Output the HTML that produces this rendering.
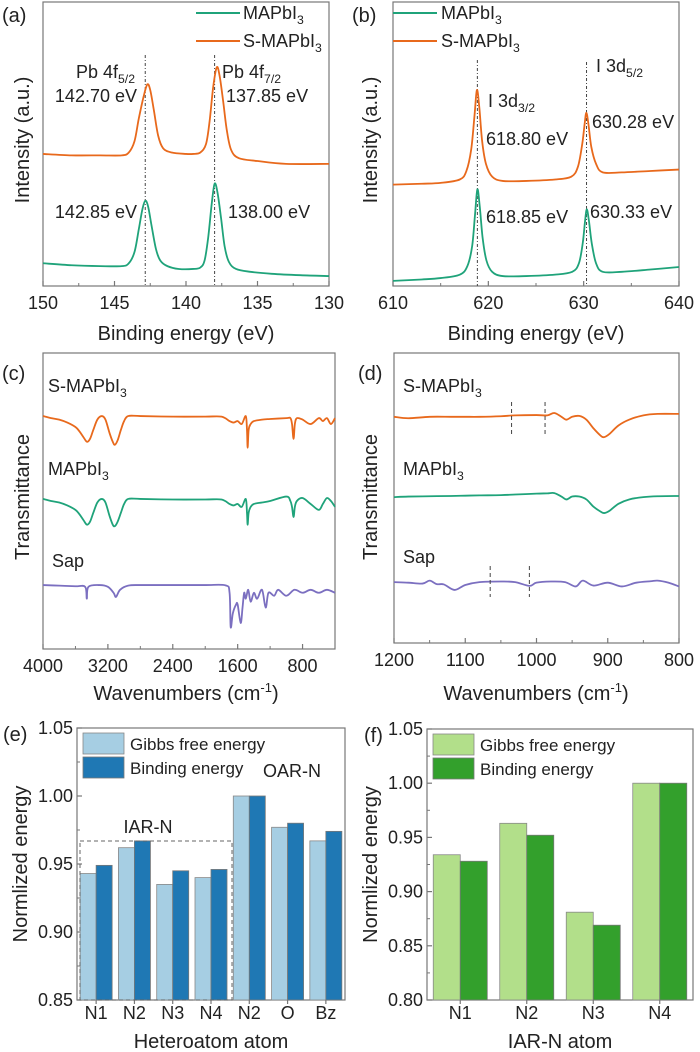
<!DOCTYPE html>
<html><head><meta charset="utf-8">
<style>
html,body{margin:0;padding:0;background:#fff;}
svg{display:block;font-family:"Liberation Sans",Arial,sans-serif;}
</style></head>
<body>
<svg id="fig" width="700" height="1052" viewBox="0 0 700 1052" xmlns="http://www.w3.org/2000/svg">
<g id="root"></g>
</svg>
<script>
// ---------- Panel (a) data: Pb 4f XPS ----------
const aEnergyGreen = [150,148,146,144.5,144,143.6,143.3,143.05,142.85,142.65,142.4,142.1,141.8,141.3,140.5,139.5,139,138.7,138.45,138.2,138,137.8,137.55,137.3,137,136.5,135.5,134,132,130];
const aMAPbI3 = [8,7.3,7,7,8,12,20,27,30,28,21,13,9,7,6,6,6.5,9,17,29,36,33,24,14,8.5,6,5,4.3,3.8,3.5];
const aEnergyOrange = [150,148,146,144.5,144,143.6,143.3,142.95,142.7,142.5,142.25,141.95,141.6,141,140,139.5,139,138.6,138.35,138.1,137.85,137.65,137.4,137.15,136.85,136.3,135,133,130];
const aSMAPbI3 = [46.5,46,46,46,47,51,59,67,71,69,62,53,48.5,47,46.5,46.5,47,50,58,70,77,74,65,55,48,45,44,43,43];
const aTicks = [150,145,140,135,130];
// ---------- Panel (b) data: I 3d XPS ----------
const bEnergyGreen = [610,613,615,617,617.8,618.3,618.6,618.85,619.1,619.4,619.8,620.4,621.5,624,627,628.8,629.5,629.9,630.15,630.33,630.55,630.85,631.3,632,634,637,640];
const bMAPbI3 = [1.8,2.3,2.8,4,7,14,25,34,28,17,9,5,3.5,3.5,4,5,8,15,23,27,23,15,8,5,5,5.8,6.7];
const bEnergyOrange = [610,613,615,617,617.7,618.2,618.55,618.8,619.05,619.35,619.75,620.4,621.5,624,627,628.7,629.4,629.85,630.1,630.28,630.5,630.8,631.3,632,634,637,640];
const bSMAPbI3 = [35.7,36,36.3,37.5,40.5,48,60,69,63,51,43,38.5,37,37,37.5,38.5,42,50,57,61,57,49,43,40,40,40.5,41];
const bTicks = [610,620,630,640];
// ---------- Panel (c) data: FTIR full ----------
const cWaveS = [4000,3900,3800,3700,3600,3550,3500,3458,3420,3380,3330,3275,3230,3180,3140,3114,3080,3040,3000,2950,2800,2400,2000,1800,1700,1650,1600,1550,1500,1485,1477,1465,1440,1400,1300,1200,1000,950,930,911,895,870,800,700,600,550,500,450,400];
const cSMAPbI3 = [78.7,78,77.5,76.5,75,73.5,71.5,70,71,74,77.5,78.7,77.5,73,70,69,70.5,74,77,78.7,78.7,78.5,78.5,78.5,77,76.5,77,76,78.7,74,68,74,76,77,77.5,77.7,78,78,76,71,76,78,77.5,76,78,77,78,76,78];
const cWaveM = cWaveS;
const cMAPbI3 = [50.7,50,49.5,48.5,47,45.5,43.5,42,43,46,49.5,50.7,49.5,45,42,41.5,43,46,49,50.7,50.7,50.5,50.5,50.5,49,48.5,49,48,50.7,46,42,46,48,49,49.5,50,51.5,50,48,44.6,48,50,51,49,47,49,51,50,48];
const cWaveSap = [4000,3800,3600,3480,3460,3440,3300,3200,3130,3100,3050,2950,2800,2400,2000,1750,1700,1686,1660,1620,1600,1563,1540,1520,1500,1470,1440,1400,1360,1300,1255,1220,1150,1100,1000,900,800,700,600,500,400];
const cSap = [21.6,21.4,21.2,21,17,21,21.6,21,19,17.6,20,21.4,21.6,21.6,21.6,21.5,19,7.4,12,15,15,8.8,14,19,17,20,16,19,17,20,14,19,18,20,18,20,19,20,19,20,19];
const cTicks = [4000,3200,2400,1600,800];
// ---------- Panel (d) data: FTIR zoom ----------
const dWave = [1200,1180,1150,1120,1100,1080,1050,1030,1000,985,975,965,958,950,940,930,920,910,905,898,885,870,850,830,800];
const dSMAPbI3 = [78,77.5,78,78,78,78,78.2,78.5,78.6,78.5,79.3,78,77,78,78.3,77,74,71.5,71,72,75,77,78.5,79,79];
const dMAPbI3 = [50.3,50.5,50.6,50.7,50.8,50.9,51,51.2,51.5,51.6,51.7,50.5,49.5,50.5,50.5,49.5,47,45.3,44.8,45.5,48,49.5,50.3,50.6,50.7];
const dWaveSap = [1200,1180,1160,1150,1140,1130,1115,1100,1080,1050,1030,1010,1000,980,960,945,935,920,900,880,860,840,830,815,800];
const dSap = [21,20.8,20.5,21.5,20.3,20.2,18.3,20,21,21.2,21,19.7,20.8,21.2,21,19.5,21.5,19.8,20.8,19.5,20.8,21.3,21.5,20.8,19.5];
const dTicks = [1200,1100,1000,900,800];
// ---------- Panel (e) data ----------
const eCategories = ["N1","N2","N3","N4","N2","O","Bz"];
const eGibbs = [0.943,0.962,0.935,0.940,1.000,0.977,0.967];
const eBinding = [0.949,0.967,0.945,0.946,1.000,0.980,0.974];
const eTicks = [0.85,0.90,0.95,1.00,1.05];
// ---------- Panel (f) data ----------
const fCategories = ["N1","N2","N3","N4"];
const fGibbs = [0.934,0.963,0.881,1.000];
const fBinding = [0.928,0.952,0.869,1.000];
const fTicks = [0.80,0.85,0.90,0.95,1.00,1.05];

const NS = "http://www.w3.org/2000/svg";
const root = document.getElementById("root");
const TICK=18, ANN=18, LEG=18, TITLE=20, PLAB=20;
function mk(tag, attrs, parent){
  const el = document.createElementNS(NS, tag);
  for (const k in attrs) el.setAttribute(k, attrs[k]);
  (parent||root).appendChild(el);
  return el;
}
function txt(str, x, y, size, anchor, parent){
  const t = mk("text", {x:x, y:y, "font-size":size, "text-anchor":anchor||"start", fill:"#222"}, parent);
  t.textContent = str;
  return t;
}
function txtSub(main, sub, x, y, size, anchor, parent){
  const t = mk("text", {x:x, y:y, "font-size":size, "text-anchor":anchor||"start", fill:"#222"}, parent);
  const a = document.createElementNS(NS,"tspan"); a.textContent = main; t.appendChild(a);
  const b = document.createElementNS(NS,"tspan"); b.setAttribute("font-size", size*0.68); b.setAttribute("dy", size*0.28); b.textContent = sub; t.appendChild(b);
  return t;
}
function scale(d0,d1,r0,r1){ return v => r0 + (v-d0)/(d1-d0)*(r1-r0); }
function smoothPath(pts){
  let d = "M"+pts[0][0].toFixed(2)+","+pts[0][1].toFixed(2);
  for (let i=0;i<pts.length-1;i++){
    const p0=pts[Math.max(i-1,0)], p1=pts[i], p2=pts[i+1], p3=pts[Math.min(i+2,pts.length-1)];
    const c1=[p1[0]+(p2[0]-p0[0])/6, p1[1]+(p2[1]-p0[1])/6];
    const c2=[p2[0]-(p3[0]-p1[0])/6, p2[1]-(p3[1]-p1[1])/6];
    d += " C"+c1[0].toFixed(2)+","+c1[1].toFixed(2)+" "+c2[0].toFixed(2)+","+c2[1].toFixed(2)+" "+p2[0].toFixed(2)+","+p2[1].toFixed(2);
  }
  return d;
}
const GREEN="#1fa37a", ORANGE="#e8691c", PURPLE="#7b6fc0";

function frame(g, x0,y0,x1,y1){
  const r = mk("rect",{x:x0,y:y0,width:x1-x0,height:y1-y0,fill:"none",stroke:"#777","stroke-width":1.2}, g);
  
  
}
function xAxisTicks(g, ticks, sx, y, minorStep, d0, d1){
  ticks.forEach(t=>{
    const X = sx(t);
    mk("line",{x1:X,y1:y,x2:X,y2:y-5,stroke:"#777","stroke-width":1.2},g);
    const lb = txt(String(t), X, y+23, TICK, "middle", g);
    
    
  });
  if (minorStep){
    const lo=Math.min(d0,d1), hi=Math.max(d0,d1);
    for (let v=lo; v<=hi+1e-9; v+=minorStep){
      if (ticks.some(t=>Math.abs(t-v)<1e-6)) continue;
      const X=sx(v);
      mk("line",{x1:X,y1:y,x2:X,y2:y-3,stroke:"#777","stroke-width":1},g);
    }
  }
}
function series(g, xs, ys, sx, sy, color, name){
  const pts = xs.map((x,i)=>[sx(x), sy(ys[i])]);
  const p = mk("path",{d:smoothPath(pts), fill:"none", stroke:color, "stroke-width":1.8, "stroke-linejoin":"round"}, g);
  
  
}
function vline(g, X, y0, y1, dash, name){
  const l = mk("line",{x1:X,y1:y0,x2:X,y2:y1,stroke:"#444","stroke-width":1,"stroke-dasharray":dash},g);
  
  
}
function rotLabel(g, str, x, cy){
  const t = mk("text",{x:0,y:0,"font-size":TITLE,"text-anchor":"middle",fill:"#222",transform:"translate("+x+","+cy+") rotate(-90)"},g);
  t.textContent = str;
  
  
}

// ================= Panel a =================
(function(){
  const g = mk("g",{});  
  const x0=43,x1=329,y0=2,y1=286;
  const sx = scale(150,130,x0,x1), sy = scale(0,100,y1,y0);
  frame(g,x0,y0,x1,y1);
  xAxisTicks(g,aTicks,sx,y1,2.5,150,130);
  vline(g, sx(142.85), 55, y1, "3,2,1,2", "peak-line-pb-4f52");
  vline(g, sx(138), 55, y1, "3,2,1,2", "peak-line-pb-4f72");
  series(g,aEnergyGreen,aMAPbI3,sx,sy,GREEN,"mapbi3-curve");
  series(g,aEnergyOrange,aSMAPbI3,sx,sy,ORANGE,"s-mapbi3-curve");
  const pl = txt("(a)",2,22,PLAB,"start",g);  
  const l1 = mk("line",{x1:196,y1:13,x2:240,y2:13,stroke:GREEN,"stroke-width":2},g);  
  const t1 = txtSub("MAPbI","3",243,19,LEG,"start",g);  
  const l2 = mk("line",{x1:196,y1:41,x2:240,y2:41,stroke:ORANGE,"stroke-width":2},g);  
  const t2 = txtSub("S-MAPbI","3",243,47,LEG,"start",g);  
  txtSub("Pb 4f","5/2",135,78,ANN,"end",g);
  txt("142.70 eV",137,102,ANN,"end",g);
  txtSub("Pb 4f","7/2",222,78,ANN,"start",g);
  txt("137.85 eV",226,102,ANN,"start",g);
  txt("142.85 eV",137,218,ANN,"end",g);
  txt("138.00 eV",228,218,ANN,"start",g);
  rotLabel(g,"Intensity (a.u.)",29,140);
  const xt = txt("Binding energy (eV)",186,340,TITLE,"middle",g);  
})();

// ================= Panel b =================
(function(){
  const g = mk("g",{});  
  const x0=393,x1=679,y0=2,y1=286;
  const sx = scale(610,640,x0,x1), sy = scale(0,100,y1,y0);
  frame(g,x0,y0,x1,y1);
  xAxisTicks(g,bTicks,sx,y1,5,610,640);
  vline(g, sx(618.85), 60, y1, "3,2,1,2", "peak-line-i-3d32");
  vline(g, sx(630.3), 62, y1, "3,2,1,2", "peak-line-i-3d52");
  series(g,bEnergyGreen,bMAPbI3,sx,sy,GREEN,"mapbi3-curve");
  series(g,bEnergyOrange,bSMAPbI3,sx,sy,ORANGE,"s-mapbi3-curve");
  const pl = txt("(b)",352,22,PLAB,"start",g);  
  const l1 = mk("line",{x1:393,y1:13,x2:437,y2:13,stroke:GREEN,"stroke-width":2},g);  
  const t1 = txtSub("MAPbI","3",441,19,LEG,"start",g);  
  const l2 = mk("line",{x1:393,y1:41,x2:437,y2:41,stroke:ORANGE,"stroke-width":2},g);  
  const t2 = txtSub("S-MAPbI","3",441,47,LEG,"start",g);  
  txtSub("I 3d","5/2",596,72,ANN,"start",g);
  txtSub("I 3d","3/2",488,107,ANN,"start",g);
  txt("618.80 eV",486,145,ANN,"start",g);
  txt("630.28 eV",592,128,ANN,"start",g);
  txt("618.85 eV",486,223,ANN,"start",g);
  txt("630.33 eV",590,218,ANN,"start",g);
  rotLabel(g,"Intensity (a.u.)",377,140);
  const xt = txt("Binding energy (eV)",536,340,TITLE,"middle",g);  
})();

// ================= Panel c =================
(function(){
  const g = mk("g",{});  
  const x0=43,x1=335,y0=353,y1=649;
  const sx = scale(4000,400,x0,x1), sy = scale(0,100,y1,y0);
  frame(g,x0,y0,x1,y1);
  xAxisTicks(g,cTicks,sx,y1,400,400,4000);
  series(g,cWaveS,cSMAPbI3,sx,sy,ORANGE,"s-mapbi3-spectrum");
  series(g,cWaveM,cMAPbI3,sx,sy,GREEN,"mapbi3-spectrum");
  series(g,cWaveSap,cSap,sx,sy,PURPLE,"sap-spectrum");
  const pl = txt("(c)",2,380,PLAB,"start",g);  
  txtSub("S-MAPbI","3",48,392,ANN,"start",g);
  txtSub("MAPbI","3",48,475,ANN,"start",g);
  txt("Sap",52,567,ANN,"start",g);
  rotLabel(g,"Transmittance",29,497);
  const xt = mk("text",{x:186,y:700,"font-size":TITLE,"text-anchor":"middle",fill:"#222"},g);
  xt.innerHTML = 'Wavenumbers (cm<tspan font-size="13" dy="-8">-1</tspan><tspan dy="8">)</tspan>';
   
})();

// ================= Panel d =================
(function(){
  const g = mk("g",{});  
  const x0=394,x1=679,y0=353,y1=643;
  const sx = scale(1200,800,x0,x1), sy = scale(0,100,y1,y0);
  frame(g,x0,y0,x1,y1);
  xAxisTicks(g,dTicks,sx,y1,50,800,1200);
  series(g,dWave,dSMAPbI3,sx,sy,ORANGE,"s-mapbi3-spectrum");
  series(g,dWave,dMAPbI3,sx,sy,GREEN,"mapbi3-spectrum");
  series(g,dWaveSap,dSap,sx,sy,PURPLE,"sap-spectrum");
  vline(g,sx(1035),402,435,"4,3","marker-1035");
  vline(g,sx(988),402,435,"4,3","marker-988");
  vline(g,sx(1065),566,597,"4,3","marker-1065");
  vline(g,sx(1010),566,597,"4,3","marker-1010");
  const pl = txt("(d)",358,380,PLAB,"start",g);  
  txtSub("S-MAPbI","3",403,392,ANN,"start",g);
  txtSub("MAPbI","3",403,475,ANN,"start",g);
  txt("Sap",403,563,ANN,"start",g);
  rotLabel(g,"Transmittance",377,497);
  const xt = mk("text",{x:536,y:700,"font-size":TITLE,"text-anchor":"middle",fill:"#222"},g);
  xt.innerHTML = 'Wavenumbers (cm<tspan font-size="13" dy="-8">-1</tspan><tspan dy="8">)</tspan>';
   
})();

// ================= Bar panels =================
function barPanel(opts){
  const g = mk("g",{});  
  const {x0,x1,y0,y1,ymin,ymax,cats,s1,s2,c1,c2,bw} = opts;
  const sy = scale(ymin,ymax,y1,y0);
  const step = (x1-x0)/cats.length;
  frame(g,x0,y0,x1,y1);
  opts.ticks.forEach(t=>{
    const Y = sy(t);
    mk("line",{x1:x0,y1:Y,x2:x0+5,y2:Y,stroke:"#777","stroke-width":1.2},g);
    const lb = txt(t.toFixed(2),x0-4,Y+6,TICK,"end",g);
     
    if (t<ymax-1e-9){ const Ym=sy(t+0.025); mk("line",{x1:x0,y1:Ym,x2:x0+3,y2:Ym,stroke:"#777","stroke-width":1},g); }
  });
  cats.forEach((c,i)=>{
    const cx = x0 + step*(i+0.5);
    const r1 = mk("rect",{x:cx-bw,y:sy(s1[i]),width:bw,height:y1-sy(s1[i]),fill:c1,stroke:"#888","stroke-width":0.8},g);
    
    
    const r2 = mk("rect",{x:cx,y:sy(s2[i]),width:bw,height:y1-sy(s2[i]),fill:c2,stroke:"#777","stroke-width":0.8},g);
    
    
    mk("line",{x1:cx,y1:y1,x2:cx,y2:y1+4,stroke:"#777","stroke-width":1.2},g);
    const lb = txt(c,cx,y1+19,TICK,"middle",g);
     
  });
  const lx = x0+6;
  const b1 = mk("rect",{x:lx,y:y0+5,width:41,height:21,fill:c1,stroke:"#888","stroke-width":0.8},g);
   
  const b2 = mk("rect",{x:lx,y:y0+29,width:41,height:21,fill:c2,stroke:"#777","stroke-width":0.8},g);
   
  const t1 = txt("Gibbs free energy",lx+47,y0+22,17,"start",g);  
  const t2 = txt("Binding energy",lx+47,y0+46,17,"start",g);  
  const pl = txt(opts.label,opts.labelX,y0+13,PLAB,"start",g);  
  rotLabel(g,"Normlized energy",opts.yTitleX,(y0+y1)/2);
  const xt = txt(opts.xTitle,(x0+x1)/2,1048,TITLE,"middle",g);  
  return {g,sy,step};
}
(function(){
  const r = barPanel({name:"panel-e",x0:77,x1:345,y0:728,y1:1000,ymin:0.85,ymax:1.05,cats:eCategories,s1:eGibbs,s2:eBinding,c1:"#a6cee3",c2:"#1f78b4",bw:16,ticks:eTicks,label:"(e)",labelX:3,yTitleX:27,xTitle:"Heteroatom atom"});
  const box = mk("rect",{x:80,y:841,width:152,height:159,fill:"none",stroke:"#666","stroke-width":1,"stroke-dasharray":"4,3"},r.g);
   
  txt("IAR-N",148,833,ANN,"middle",r.g);
  txt("OAR-N",292,777,ANN,"middle",r.g);
})();
(function(){
  barPanel({name:"panel-f",x0:427,x1:693,y0:729,y1:1000,ymin:0.80,ymax:1.05,cats:fCategories,s1:fGibbs,s2:fBinding,c1:"#b2df8a",c2:"#33a02c",bw:27,ticks:fTicks,label:"(f)",labelX:364,yTitleX:377,xTitle:"IAR-N atom"});
})();
</script>
</body></html>
